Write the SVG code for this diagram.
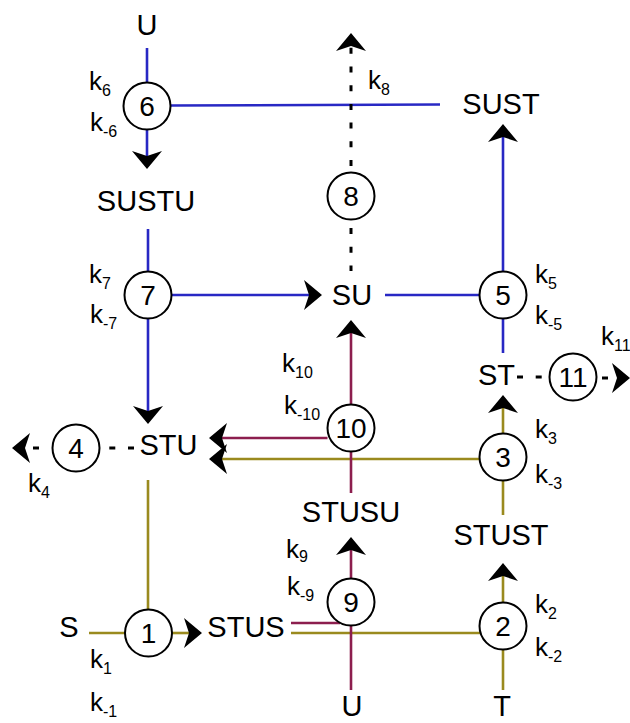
<svg xmlns="http://www.w3.org/2000/svg" width="630" height="723" viewBox="0 0 630 723">
<style>
text{font-family:"Liberation Sans",Arial,Helvetica,sans-serif;fill:#000}
.sp{font-size:29px;text-anchor:middle}
.num{font-size:28px;text-anchor:middle}
.k{font-size:26px}
.sub{font-size:16px}
.rc{fill:#fff;stroke:#000;stroke-width:2}
.ln{fill:none;stroke-width:2.6}
.b{stroke:#2828C4}
.o{stroke:#9A8A1E}
.m{stroke:#8C1E4E}
.d{stroke:#000;stroke-width:3;stroke-dasharray:6 12.7}
</style>
<defs>
<marker id="ah" viewBox="0 0 18 30" refX="5" refY="15" markerWidth="18" markerHeight="30" markerUnits="userSpaceOnUse" orient="auto">
<path d="M0,0 L18,15 L0,30 L5,15 Z" fill="#000"/>
</marker>
</defs>
<g id="connectors">
<line class="ln o" x1="148" y1="480" x2="148" y2="609.5"/>
<line class="ln o" x1="89" y1="633" x2="125.5" y2="633"/>
<line class="ln o" x1="172" y1="633" x2="189" y2="633" marker-end="url(#ah)"/>
<line class="ln o" x1="291" y1="633" x2="480" y2="633"/>
<line class="ln o" x1="503" y1="690" x2="503" y2="649.5"/>
<line class="ln o" x1="503" y1="602.5" x2="503" y2="576" marker-end="url(#ah)"/>
<line class="ln o" x1="503" y1="515" x2="503" y2="480.5"/>
<line class="ln o" x1="503" y1="433.5" x2="503" y2="408" marker-end="url(#ah)"/>
<line class="ln o" x1="480" y1="459" x2="222" y2="459" marker-end="url(#ah)"/>
<line class="ln b" x1="147" y1="48" x2="147" y2="82.5"/>
<line class="ln b" x1="147" y1="129.5" x2="147" y2="156" marker-end="url(#ah)"/>
<line class="ln b" x1="170" y1="105.5" x2="440" y2="104.5"/>
<line class="ln b" x1="148" y1="229" x2="148" y2="271.5"/>
<line class="ln b" x1="171.5" y1="295" x2="309" y2="295" marker-end="url(#ah)"/>
<line class="ln b" x1="148" y1="318.5" x2="148" y2="411" marker-end="url(#ah)"/>
<line class="ln b" x1="385" y1="295" x2="479.5" y2="295"/>
<line class="ln b" x1="503" y1="271.5" x2="503" y2="137" marker-end="url(#ah)"/>
<line class="ln b" x1="503" y1="318.5" x2="503" y2="353"/>
<line class="ln m" x1="327.5" y1="438" x2="222" y2="438" marker-end="url(#ah)"/>
<line class="ln m" x1="351" y1="404.5" x2="351" y2="333" marker-end="url(#ah)"/>
<line class="ln m" x1="351" y1="451.5" x2="351" y2="493"/>
<line class="ln m" x1="351" y1="578.5" x2="351" y2="550" marker-end="url(#ah)"/>
<line class="ln m" x1="291" y1="623" x2="340" y2="623"/>
<line class="ln m" x1="351" y1="625.5" x2="351" y2="690"/>
<line class="d" x1="351" y1="166" x2="351" y2="46" marker-end="url(#ah)"/>
<line class="d" x1="351" y1="228" x2="351" y2="271"/>
<line class="d" x1="517" y1="377" x2="549.5" y2="377"/>
<line class="d" x1="602" y1="378" x2="617" y2="378" marker-end="url(#ah)"/>
<line class="d" x1="134" y1="448" x2="100" y2="448"/>
<line class="d" x1="39" y1="448" x2="25" y2="448" marker-end="url(#ah)"/>
</g>
<g id="r6"><circle class="rc" cx="147" cy="106" r="23.5"/><text class="num" x="147" y="116">6</text>
<text class="k" x="89" y="90">k<tspan class="sub" dy="6">6</tspan></text>
<text class="k" x="90" y="131">k<tspan class="sub" dy="6">-6</tspan></text></g>
<g id="r7"><circle class="rc" cx="148" cy="295" r="23.5"/><text class="num" x="148" y="305">7</text>
<text class="k" x="89" y="283">k<tspan class="sub" dy="6">7</tspan></text>
<text class="k" x="90" y="323">k<tspan class="sub" dy="6">-7</tspan></text></g>
<g id="r8"><circle class="rc" cx="351" cy="196" r="23.5"/><text class="num" x="351" y="206">8</text>
<text class="k" x="368" y="89">k<tspan class="sub" dy="6">8</tspan></text></g>
<g id="r5"><circle class="rc" cx="503" cy="295" r="23.5"/><text class="num" x="503" y="305">5</text>
<text class="k" x="535" y="283">k<tspan class="sub" dy="6">5</tspan></text>
<text class="k" x="535" y="324">k<tspan class="sub" dy="6">-5</tspan></text></g>
<g id="r11"><circle class="rc" cx="573" cy="377" r="23.5"/><text class="num" x="573" y="387">11</text>
<text class="k" x="601" y="345">k<tspan class="sub" dy="6">11</tspan></text></g>
<g id="r10"><circle class="rc" cx="351" cy="428" r="23.5"/><text class="num" x="351" y="438">10</text>
<text class="k" x="282" y="372">k<tspan class="sub" dy="6">10</tspan></text>
<text class="k" x="284" y="414">k<tspan class="sub" dy="6">-10</tspan></text></g>
<g id="r3"><circle class="rc" cx="503" cy="457" r="23.5"/><text class="num" x="503" y="467">3</text>
<text class="k" x="535" y="438">k<tspan class="sub" dy="6">3</tspan></text>
<text class="k" x="535" y="483">k<tspan class="sub" dy="6">-3</tspan></text></g>
<g id="r4"><circle class="rc" cx="76" cy="448" r="23.5"/><text class="num" x="76" y="458">4</text>
<text class="k" x="28" y="492">k<tspan class="sub" dy="6">4</tspan></text></g>
<g id="r1"><circle class="rc" cx="148.5" cy="633" r="23.5"/><text class="num" x="148.5" y="643">1</text>
<text class="k" x="90" y="668">k<tspan class="sub" dy="6">1</tspan></text>
<text class="k" x="90" y="711">k<tspan class="sub" dy="6">-1</tspan></text></g>
<g id="r9"><circle class="rc" cx="351" cy="602" r="23.5"/><text class="num" x="351" y="612">9</text>
<text class="k" x="286" y="558">k<tspan class="sub" dy="4">9</tspan></text>
<text class="k" x="287" y="595">k<tspan class="sub" dy="6">-9</tspan></text></g>
<g id="r2"><circle class="rc" cx="503" cy="626" r="23.5"/><text class="num" x="503" y="636">2</text>
<text class="k" x="535" y="613">k<tspan class="sub" dy="6">2</tspan></text>
<text class="k" x="535" y="656">k<tspan class="sub" dy="6">-2</tspan></text></g>
<g id="U_top"><text class="sp" x="147" y="35">U</text></g>
<g id="SUSTU"><text class="sp" x="146" y="211">SUSTU</text></g>
<g id="SUST"><text class="sp" x="501" y="114">SUST</text></g>
<g id="SU"><text class="sp" x="352" y="305">SU</text></g>
<g id="ST"><text class="sp" x="496.5" y="385">ST</text></g>
<g id="STU"><text class="sp" x="168.5" y="455">STU</text></g>
<g id="STUSU"><text class="sp" x="351" y="522">STUSU</text></g>
<g id="STUST"><text class="sp" x="501" y="545">STUST</text></g>
<g id="STUS"><text class="sp" x="246" y="637">STUS</text></g>
<g id="S"><text class="sp" x="69" y="637">S</text></g>
<g id="U_bottom"><text class="sp" x="352" y="716">U</text></g>
<g id="T"><text class="sp" x="502" y="716">T</text></g>
</svg>
